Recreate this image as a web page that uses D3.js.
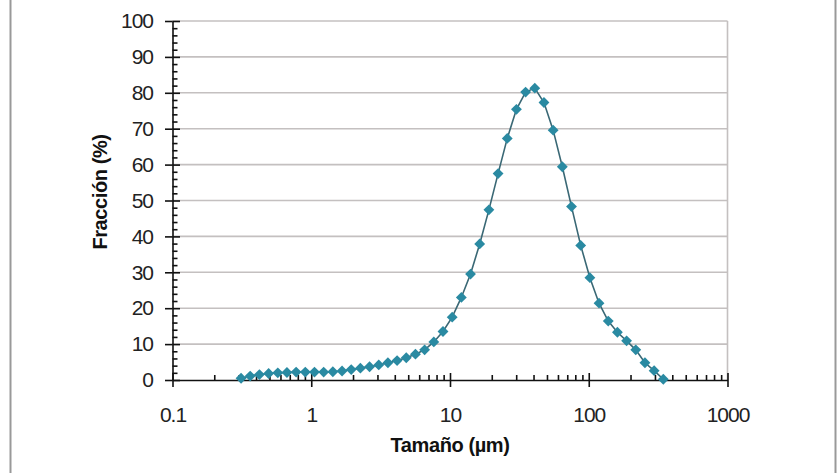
<!DOCTYPE html>
<html>
<head>
<meta charset="utf-8">
<script src="https://cdn.jsdelivr.net/npm/d3@7"></script>
<style>
  body { margin: 0; background: #fff; }
  svg { display: block; }
  .axis text { font-family: "Liberation Sans", Arial, sans-serif; font-size: 21px; letter-spacing: -1px; fill: #222; }
  .axis path, .axis line { stroke: #111; stroke-width: 1.6; }
  .grid line { stroke: #c4c0c0; stroke-width: 1.6; }
  .title { font-family: "Liberation Sans", Arial, sans-serif; font-size: 20px; font-weight: bold; fill: #111; letter-spacing: -0.4px; }
</style>
</head>
<body>
<div id="chart"></div>
<script>

// particle size (µm)
var sizes = [0.312, 0.363, 0.423, 0.493, 0.574, 0.668, 0.778, 0.906, 1.055, 1.229,
  1.431, 1.667, 1.941, 2.26, 2.632, 3.065, 3.569, 4.156, 4.84, 5.636,
  6.564, 7.644, 8.902, 10.37, 12.07, 14.06, 16.37, 19.07, 22.21, 25.86,
  30.12, 35.07, 40.84, 47.56, 55.39, 64.5, 75.12, 87.48, 101.9, 118.6,
  138.2, 160.9, 187.4, 218.2, 254.1, 295.9, 344.6];

// fraction (%)
var fraction = [0.5, 1.1, 1.5, 1.8, 2.0, 2.1, 2.2, 2.2, 2.2, 2.2,
  2.3, 2.5, 2.9, 3.3, 3.7, 4.2, 4.8, 5.4, 6.2, 7.2,
  8.4, 10.6, 13.5, 17.5, 23.0, 29.5, 37.9, 47.4, 57.5, 67.3,
  75.4, 80.2, 81.3, 77.3, 69.6, 59.4, 48.3, 37.5, 28.5, 21.4,
  16.4, 13.3, 10.9, 8.4, 4.8, 2.6, 0.2];

var xTickValues = [0.1, 1, 10, 100, 1000];
var xTickLabels = ["0.1", "1", "10", "100", "1000"];
var yTickValues = [0, 10, 20, 30, 40, 50, 60, 70, 80, 90, 100];

var W = 837, H = 473;
var plotLeft = 172.5, plotRight = 727.5, plotTop = 21, plotBottom = 380;

var svg = d3.select("#chart").append("svg")
    .attr("width", W)
    .attr("height", H);

// frame lines of the figure box
svg.append("line").attr("x1", 10.5).attr("x2", 10.5).attr("y1", 0).attr("y2", H)
    .attr("stroke", "#999").attr("stroke-width", 2);
svg.append("line").attr("x1", 835.5).attr("x2", 835.5).attr("y1", 0).attr("y2", H)
    .attr("stroke", "#999").attr("stroke-width", 2);

var x = d3.scaleLog().domain([0.1, 1000]).range([plotLeft, plotRight]);
var y = d3.scaleLinear().domain([0, 100]).range([plotBottom, plotTop]);

// horizontal gridlines
svg.append("g").attr("class", "grid")
    .selectAll("line")
    .data(yTickValues.slice(1))
    .enter().append("line")
    .attr("x1", plotLeft).attr("x2", plotRight)
    .attr("y1", function (d) { return y(d); })
    .attr("y2", function (d) { return y(d); });

// right border of plot area
svg.append("line")
    .attr("x1", plotRight).attr("x2", plotRight)
    .attr("y1", plotTop).attr("y2", plotBottom)
    .attr("stroke", "#c4c0c0").attr("stroke-width", 1.6);

// minor tick values
var xMinor = [];
[0.1, 1, 10, 100].forEach(function (dec) {
  for (var k = 2; k <= 9; k++) xMinor.push(dec * k);
});
var yMinor = d3.range(0, 101, 2).filter(function (d) { return d % 10 !== 0; });

// y axis
svg.append("g").attr("class", "axis")
    .attr("transform", "translate(" + plotLeft + ",0)")
    .call(d3.axisLeft(y).tickValues(yTickValues).tickSizeInner(7.5).tickSizeOuter(0).tickPadding(12));
svg.append("g").attr("class", "axis")
    .attr("transform", "translate(" + plotLeft + ",0)")
    .call(d3.axisRight(y).tickValues(yTickValues).tickSize(7.5).tickFormat(""))
    .select(".domain").remove();
svg.append("g").attr("class", "axis")
    .attr("transform", "translate(" + plotLeft + ",0)")
    .call(d3.axisRight(y).tickValues(yMinor).tickSize(5).tickFormat(""))
    .select(".domain").remove();

// x axis
svg.append("g").attr("class", "axis")
    .attr("transform", "translate(0," + plotBottom + ")")
    .call(d3.axisBottom(x).tickValues(xTickValues).tickSizeInner(7).tickSizeOuter(0).tickPadding(20)
      .tickFormat(function (d, i) { return xTickLabels[i]; }));
svg.append("g").attr("class", "axis")
    .attr("transform", "translate(0," + plotBottom + ")")
    .call(d3.axisTop(x).tickValues(xTickValues).tickSize(7).tickFormat(""))
    .select(".domain").remove();
svg.append("g").attr("class", "axis")
    .attr("transform", "translate(0," + plotBottom + ")")
    .call(d3.axisTop(x).tickValues(xMinor).tickSize(5).tickFormat(""))
    .select(".domain").remove();

// data
var data = sizes.map(function (s, i) { return { size: s, value: fraction[i] }; });

var line = d3.line()
    .x(function (d) { return x(d.size); })
    .y(function (d) { return y(d.value); });

svg.append("path")
    .datum(data)
    .attr("d", line)
    .attr("fill", "none")
    .attr("stroke", "#3a6875")
    .attr("stroke-width", 1.6);

svg.append("g")
    .selectAll("path")
    .data(data)
    .enter().append("path")
    .attr("transform", function (d) { return "translate(" + x(d.size) + "," + y(d.value) + ")"; })
    .attr("d", d3.symbol().type(d3.symbolDiamond2).size(75))
    .attr("fill", "#2a8aa2");

// axis titles
svg.append("text")
    .attr("class", "title")
    .attr("x", (plotLeft + plotRight) / 2)
    .attr("y", 452)
    .attr("text-anchor", "middle")
    .text("Tamaño (µm)");

svg.append("text")
    .attr("class", "title")
    .attr("transform", "translate(107,192) rotate(-90)")
    .attr("text-anchor", "middle")
    .text("Fracción (%)");
</script>
</body>
</html>
